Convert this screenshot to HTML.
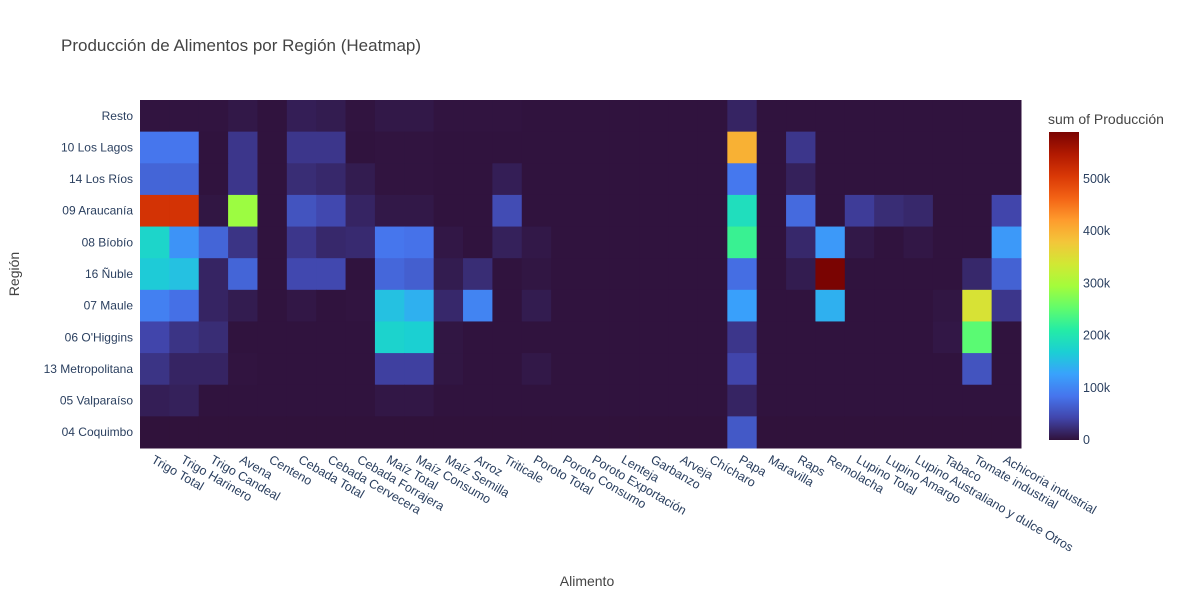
<!DOCTYPE html>
<html><head><meta charset="utf-8"><style>
body{margin:0;background:#fff;}
svg{display:block;font-family:"Liberation Sans",sans-serif;}
</style></head><body>
<svg id="chart" width="1200" height="600">
<text x="61" y="51" font-size="17" fill="#444">Producción de Alimentos por Región (Heatmap)</text>
<g id="cells"></g>
<g id="ylabels"></g>
<g id="xlabels"></g>
<text x="587" y="586" font-size="14" fill="#444" text-anchor="middle">Alimento</text>
<text x="0" y="0" font-size="14" fill="#444" text-anchor="middle" transform="translate(19,274) rotate(-90)">Región</text>
<text x="1048" y="124" font-size="14" fill="#444">sum of Producción</text>
<defs><linearGradient id="cbg" x1="0" y1="1" x2="0" y2="0"></linearGradient></defs>
<rect x="1049" y="132" width="30" height="308" fill="url(#cbg)"/>
<g id="cbticks"></g>
</svg>
<script>
const regions = ["Resto","10 Los Lagos","14 Los Ríos","09 Araucanía","08 Bíobío","16 Ñuble","07 Maule","06 O'Higgins","13 Metropolitana","05 Valparaíso","04 Coquimbo"];
const foods = ["Trigo Total","Trigo Harinero","Trigo Candeal","Avena","Centeno","Cebada Total","Cebada Cervecera","Cebada Forrajera","Maíz Total","Maíz Consumo","Maíz Semilla","Arroz","Triticale","Poroto Total","Poroto Consumo","Poroto Exportación","Lenteja","Garbanzo","Arveja","Chícharo","Papa","Maravilla","Raps","Remolacha","Lupino Total","Lupino Amargo","Lupino Australiano y dulce Otros","Tabaco","Tomate industrial","Achicoria industrial"];
// values in thousands, one row per region (top to bottom)
const rowResto = [2,2,2,5,1,10,8,2,5,5,2,2,2,1,1,1,1,1,1,1,15,1,1,1,1,1,1,1,1,1];
const rowLosLagos = [85,85,1,30,1,30,30,1,2,2,1,1,1,1,1,1,1,1,1,1,400,1,30,1,1,1,1,1,1,1];
const rowLosRios = [70,70,1,30,1,22,18,8,2,2,1,1,10,1,1,1,1,1,1,1,87,1,12,1,1,1,1,1,1,1];
const rowAraucania = [512,512,3,290,1,55,45,15,5,5,1,1,48,1,1,1,1,1,1,1,190,1,75,1,35,22,18,1,1,42];
const rowBiobio = [178,112,70,28,1,30,18,20,85,82,4,1,12,5,1,1,1,1,1,1,225,1,18,118,5,1,4,1,1,118];
const rowNuble = [165,155,15,70,1,45,45,1,72,65,8,22,1,3,1,1,1,1,1,1,78,1,8,590,1,1,1,1,18,68];
const rowMaule = [95,80,15,8,1,4,1,2,155,140,18,98,1,8,1,1,1,1,1,1,125,1,1,140,1,1,1,3,345,30];
const rowOHiggins = [42,28,22,1,1,1,1,1,175,170,3,1,1,1,1,1,1,1,1,1,30,1,1,1,1,1,1,4,248,1];
const rowMetropolitana = [28,15,15,2,1,1,1,1,38,38,3,1,1,5,1,1,1,1,1,1,42,1,1,1,1,1,1,1,55,1];
const rowValparaiso = [10,12,1,1,1,1,1,1,4,4,1,1,1,1,1,1,1,1,1,1,15,1,1,1,1,1,1,1,1,1];
const rowCoquimbo = [0,0,0,0,0,0,0,0,0,0,0,0,0,0,0,0,0,0,0,0,60,0,0,0,0,0,0,0,0,0];
const zRows = [rowResto,rowLosLagos,rowLosRios,rowAraucania,rowBiobio,rowNuble,rowMaule,rowOHiggins,rowMetropolitana,rowValparaiso,rowCoquimbo];
const cbTickValues = [0,100,200,300,400,500];
const cbTickLabels = ["0","100k","200k","300k","400k","500k"];

const turbo = ["#30123b","#4145ab","#4675ed","#39a2fc","#1bcfd4","#24eca6","#61fc6c","#a4fc3b","#d1e834","#f3c63a","#fe9b2d","#f36315","#d93806","#b11901","#7a0402"];
const zmax = Math.max(...zRows.flat());
const X0=140,X1=1021,Y0=100,Y1=448;
const cw=(X1-X0)/foods.length, rh=(Y1-Y0)/regions.length;
const xPos=i=>X0+i*cw, yPos=j=>Y0+j*rh;
const cbY=v=>440-(v/zmax)*308;
function hex(h){return [1,3,5].map(k=>parseInt(h.substr(k,2),16));}
function color(v){
  let t=Math.max(0,Math.min(1,v/zmax))*(turbo.length-1);
  let i=Math.min(Math.floor(t),turbo.length-2), f=t-i;
  let a=hex(turbo[i]), b=hex(turbo[i+1]);
  return "rgb("+a.map((x,k)=>Math.round(x+(b[k]-x)*f)).join(",")+")";
}
const NS="http://www.w3.org/2000/svg";
function mk(tag,attrs,parent){const e=document.createElementNS(NS,tag);for(const k in attrs)e.setAttribute(k,attrs[k]);parent.appendChild(e);return e;}
const cells=document.getElementById('cells');
zRows.forEach((row,j)=>row.forEach((v,i)=>{
  const r=mk('rect',{x:xPos(i),y:yPos(j),width:cw+0.5,height:rh+0.5,fill:color(v)},cells);
  
  
}));
const yl=document.getElementById('ylabels');
regions.forEach((r,j)=>{
  const t=mk('text',{x:133,y:yPos(j)+rh/2+4,'font-size':12,fill:'#2a3f5f','text-anchor':'end'},yl);
  t.textContent=r;
  
  
});
const xl=document.getElementById('xlabels');
foods.forEach((f,i)=>{
  const t=mk('text',{x:0,y:0,'font-size':12.5,fill:'#2a3f5f',transform:`translate(${xPos(i)+cw/2-4},${462}) rotate(30)`},xl);
  t.textContent=f;
  
  
});
const g=document.getElementById('cbg');
turbo.forEach((c,k)=>{mk('stop',{offset:k/(turbo.length-1),'stop-color':c},g);});
const cbt=document.getElementById('cbticks');
cbTickValues.forEach((v,k)=>{
  const t=mk('text',{x:1083,y:cbY(v)+4,'font-size':12.5,fill:'#2a3f5f'},cbt);
  t.textContent=cbTickLabels[k];
  
  
});
</script>
</body></html>
